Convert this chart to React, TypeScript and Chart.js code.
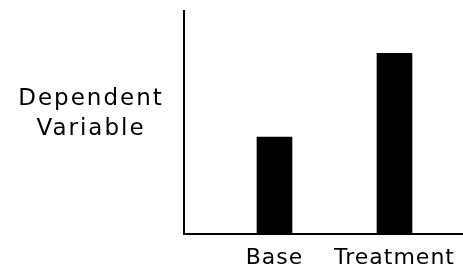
import React, { useEffect, useRef } from "react";
import { Chart, registerables } from "chart.js";

Chart.register(...registerables);

const categories = ["Base", "Treatment"];
const positions = [1, 2];
const values = [4.35, 8.1];
const yTitleLines = ["Dependent", "Variable"];

const FONT = "'DejaVu Sans', sans-serif";

const spacingPlugin = {
  id: "spacingPlugin",
  beforeDraw(chart: any) {
    try { (chart.ctx as any).letterSpacing = "1px"; } catch (e) {}
  },
};

const yTitlePlugin = {
  id: "yTitlePlugin",
  afterDraw(chart: any) {
    const ctx = chart.ctx;
    ctx.save();
    ctx.fillStyle = "#000";
    ctx.font = `23px ${FONT}`;
    ctx.textAlign = "center";
    ctx.textBaseline = "alphabetic";
    try { (ctx as any).letterSpacing = "2px"; } catch (e) {}
    ctx.fillText(yTitleLines[0], 91, 105);
    ctx.fillText(yTitleLines[1], 91, 135);
    ctx.restore();
  },
};

export default function App() {
  const ref = useRef<HTMLCanvasElement | null>(null);
  useEffect(() => {
    if (!ref.current) return;
    const chart = new Chart(ref.current, {
      type: "bar",
      data: {
        datasets: [
          {
            data: positions.map((x, i) => ({ x, y: values[i] })),
            backgroundColor: "#000",
            borderWidth: 0,
            barThickness: 35,
          },
        ],
      },
      options: {
        responsive: false,
        animation: false,
        layout: { padding: { left: 184, top: 11, right: 0, bottom: 2 } },
        plugins: { legend: { display: false }, tooltip: { enabled: false } },
        scales: {
          x: {
            type: "linear",
            offset: false,
            min: 0.246,
            max: 2.571,
            grid: { display: false, drawTicks: false, offset: false },
            border: { display: true, color: "#000", width: 2 },
            afterBuildTicks: (axis: any) => {
              axis.ticks = positions.map((v) => ({ value: v }));
            },
            afterFit: (s: any) => {
              s.height = 34;
            },
            ticks: {
              padding: 11,
              color: "#000",
              font: { family: FONT, size: 22 },
              callback: (v: any) => categories[positions.indexOf(Number(v))] ?? "",
              maxRotation: 0,
              autoSkip: false,
            },
          },
          y: {
            min: 0,
            max: 10,
            grid: { display: false, drawTicks: false },
            border: { display: true, color: "#000", width: 2 },
            ticks: { display: false },
            afterFit: (s: any) => {
              s.width = 0;
            },
          },
        },
      },
      plugins: [spacingPlugin, yTitlePlugin],
    });
    return () => chart.destroy();
  }, []);
  return (
    <div style={{ position: "absolute", left: 0, top: 0, width: 463, height: 270, background: "#fff" }}>
      <canvas ref={ref} width={463} height={270} style={{ display: "block" }} />
    </div>
  );
}
